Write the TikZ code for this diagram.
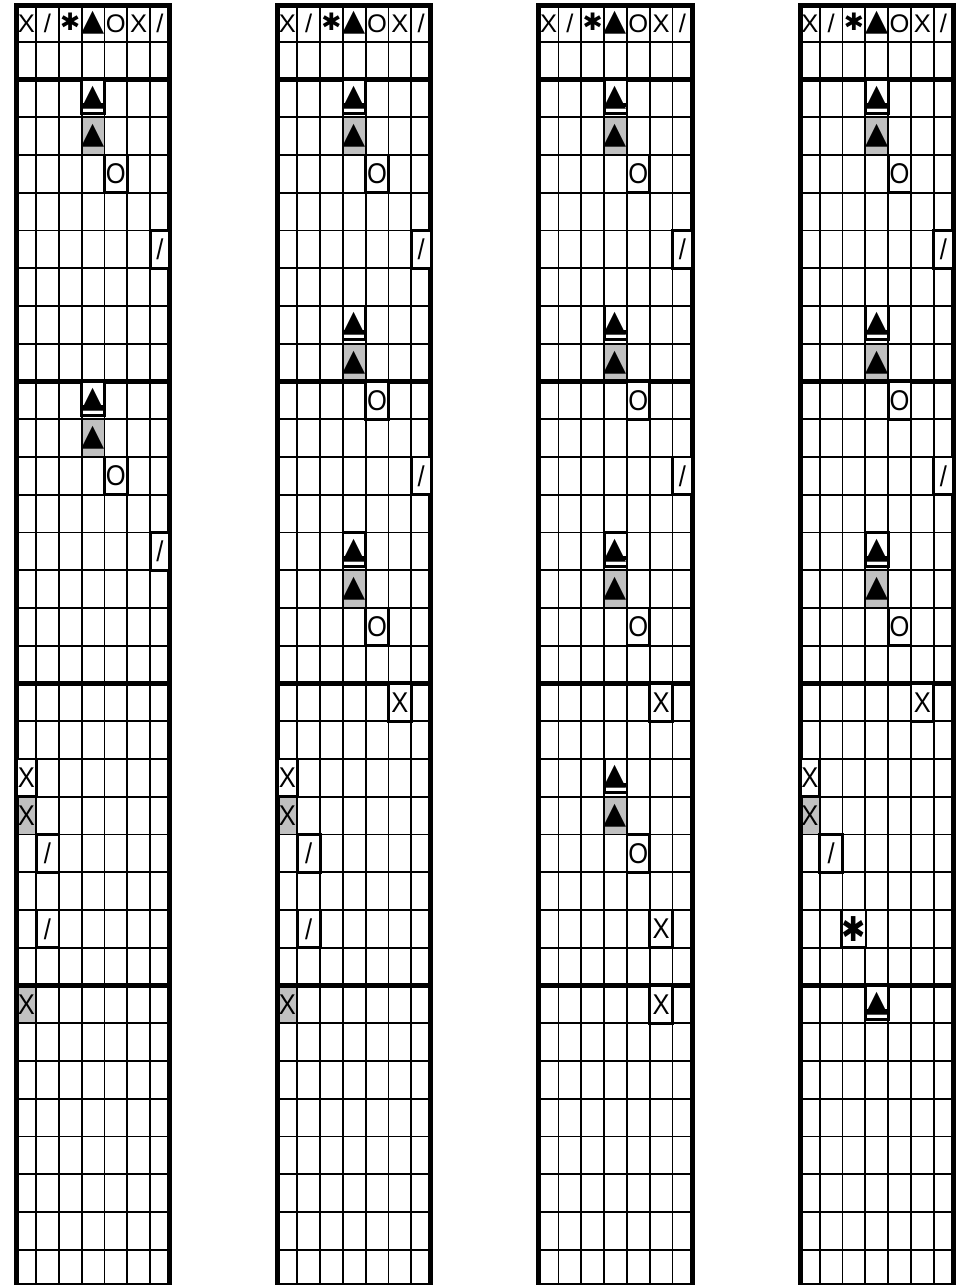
\documentclass[tikz,border=0pt]{standalone}
\usepackage{fontspec}
\setmainfont{Liberation Sans}
\newfontfamily\symfont{DejaVu Sans}
\definecolor{cellgray}{RGB}{192,192,192}
\tikzset{
  gridthin/.style={line width=1.8pt, draw=black},
  gridthick/.style={line width=5pt, draw=black},
  markbox/.style={draw=black, line width=2.8pt, fill=white, inner sep=0pt},
  glyph/.style={inner sep=0pt, font=\fontsize{25.5}{30}\selectfont},
}
\newcommand\gX{\scalebox{1}[1.12]{X}}
\newcommand\gS{\scalebox{1}[1.12]{/}}
\newcommand\gO{\scalebox{1}[1.12]{O}}
\newcommand\gT{{\symfont\fontsize{30}{34}\selectfont ▲}}
\newcommand\gA{\scalebox{1}[1.18]{\symfont\fontsize{29}{34}\selectfont ✱}}
\newcommand\cellgeom[4]{%
  \pgfmathsetmacro\mcL{16.5+261.2*#1}%
  \pgfmathsetmacro\mxa{(#4==0)?\mcL:(\mcL+19.6+22.8*(#4-1))}%
  \pgfmathsetmacro\mxb{(#4==6)?(\mcL+153.2):(\mcL+19.6+22.8*#4)}%
  \pgfmathsetmacro\mya{79.5+302*#2+37.75*#3}%
  \pgfmathsetmacro\myb{\mya+37.75}%
  \pgfmathsetmacro\mxc{(\mxa+\mxb)/2}%
  \pgfmathsetmacro\myc{(\mya+\myb)/2}%
  \pgfmathsetmacro\mw{\mxb-\mxa}%
}
\newcommand\graycell[5]{%
  \cellgeom{#1}{#2}{#3}{#4}%
  \fill[cellgray] (\mxa,\mya) rectangle (\mxb,\myb);
  \node[glyph] (g-#1-#2-#3) at (\mxc,\myc) {#5};
}
\newcommand\boxcell[5]{%
  \cellgeom{#1}{#2}{#3}{#4}%
  \node[markbox, glyph, minimum width=\mw, minimum height=37.75] (b-#1-#2-#3) at (\mxc,\myc) {#5};
}
% boxed triangle: box raised at the bottom, with a bar under the triangle
\newcommand\boxtri[4]{%
  \cellgeom{#1}{#2}{#3}{#4}%
  \pgfmathsetmacro\mbc{\mya+16.9}%
  \pgfmathsetmacro\mtb{\myb-12}%
  \node[markbox, minimum width=\mw, minimum height=33.8] (b-#1-#2-#3) at (\mxc,\mbc) {};
  \node[glyph, anchor=base] (t-#1-#2-#3) at (\mxc,\mtb) {\gT};
  \fill[black] (\mxa,\myb-14.2) rectangle (\mxb,\myb-10);
}
\begin{document}
\begin{tikzpicture}[x=1pt,y=-1pt]
\useasboundingbox (0,0) rectangle (968,1285);
% gray cells
\foreach \c in {0,1,2,3} {
  \graycell{\c}{0}{1}{3}{\gT}
}
\foreach \c in {1,2,3} {
  \graycell{\c}{0}{7}{3}{\gT}
  \graycell{\c}{1}{5}{3}{\gT}
}
\graycell{0}{1}{1}{3}{\gT}
\foreach \c in {0,1,3} { \graycell{\c}{2}{3}{0}{\gX} }
\graycell{2}{2}{3}{3}{\gT}
\graycell{0}{3}{0}{0}{\gX}
\graycell{1}{3}{0}{0}{\gX}
% grid
\foreach \c in {0,1,2,3} {
  \pgfmathsetmacro\L{16.5+261.2*\c}
  \pgfmathsetmacro\R{\L+153.2}
  \foreach \k in {0,...,5} {
    \pgfmathsetmacro\xx{\L+19.6+22.8*\k}
    \draw[gridthin] (\xx,5.8) -- (\xx,1285);
  }
  \draw[gridthin] (\L,41.75) -- (\R,41.75);
  \foreach \s in {0,...,3} {
    \foreach \r in {1,...,7} {
      \pgfmathsetmacro\yy{79.5+302*\s+37.75*\r}
      \draw[gridthin] (\L,\yy) -- (\R,\yy);
    }
    \pgfmathsetmacro\yt{79.5+302*\s}
    \draw[gridthick] (\L,\yt) -- (\R,\yt);
  }
  \draw[gridthick] (\L,5.8) rectangle (\R,1285);
}
% boxed cells
\foreach \c in {0,1,2,3} {
  \boxtri{\c}{0}{0}{3}
  \boxcell{\c}{0}{2}{4}{\gO}
  \boxcell{\c}{0}{4}{6}{\gS}
}
\boxtri{0}{1}{0}{3}
\boxcell{0}{1}{2}{4}{\gO}
\boxcell{0}{1}{4}{6}{\gS}
\foreach \c in {1,2,3} {
  \boxtri{\c}{0}{6}{3}
  \boxcell{\c}{1}{0}{4}{\gO}
  \boxcell{\c}{1}{2}{6}{\gS}
  \boxtri{\c}{1}{4}{3}
  \boxcell{\c}{1}{6}{4}{\gO}
  \boxcell{\c}{2}{0}{5}{\gX}
}
\foreach \c in {0,1,3} {
  \boxcell{\c}{2}{2}{0}{\gX}
  \boxcell{\c}{2}{4}{1}{\gS}
}
\boxcell{0}{2}{6}{1}{\gS}
\boxcell{1}{2}{6}{1}{\gS}
\boxtri{2}{2}{2}{3}
\boxcell{2}{2}{4}{4}{\gO}
\boxcell{2}{2}{6}{5}{\gX}
\boxcell{3}{2}{6}{2}{\gA}
\boxcell{2}{3}{0}{5}{\gX}
\boxtri{3}{3}{0}{3}
% header
\foreach \c in {0,1,2,3} {
  \pgfmathsetmacro\L{16.5+261.2*\c}
  \node[glyph] (h-\c-0) at (\L+9.8,23.4) {X};
  \node[glyph] (h-\c-1) at (\L+31,23.4) {/};
  \node[glyph] (h-\c-2) at (\L+53.8,21.8) {\symfont\fontsize{24}{28}\selectfont ✱};
  \node[glyph] (h-\c-3) at (\L+76.6,23.2) {\gT};
  \node[glyph] (h-\c-4) at (\L+99.4,23.4) {O};
  \node[glyph] (h-\c-5) at (\L+122.2,23.4) {X};
  \node[glyph] (h-\c-6) at (\L+143.4,23.4) {/};
}
\end{tikzpicture}
\end{document}
